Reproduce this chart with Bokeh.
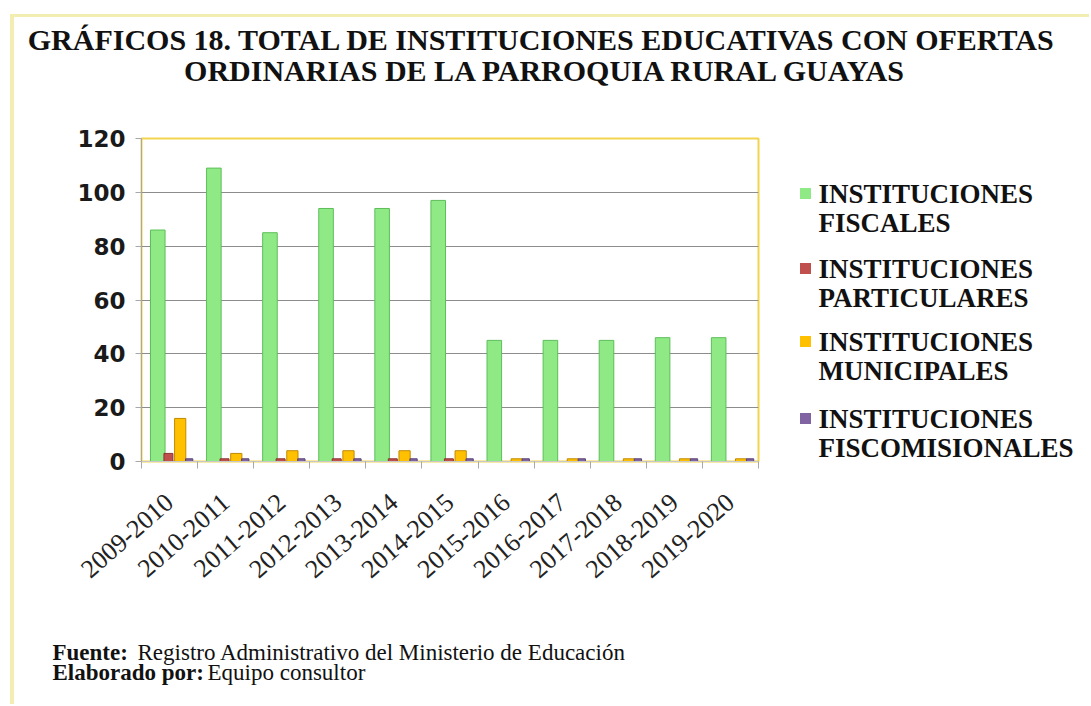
from bokeh.plotting import figure
from bokeh.models import Range1d, FixedTicker
from bokeh.layouts import column, row
from bokeh.embed import file_html
from bokeh.resources import INLINE
from bokeh.core.properties import value

# ---------------- data ----------------
periodos = ["2009-2010", "2010-2011", "2011-2012", "2012-2013", "2013-2014",
            "2014-2015", "2015-2016", "2016-2017", "2017-2018", "2018-2019", "2019-2020"]
fiscales = [86, 109, 85, 94, 94, 97, 45, 45, 45, 46, 46]
particulares = [3, 1, 1, 1, 1, 1, 0, 0, 0, 0, 0]
municipales = [16, 3, 4, 4, 4, 4, 1, 1, 1, 1, 1]
fiscomisionales = [1, 1, 1, 1, 1, 1, 1, 1, 1, 1, 1]
serie_l1 = ["INSTITUCIONES", "INSTITUCIONES", "INSTITUCIONES", "INSTITUCIONES"]
serie_l2 = ["FISCALES", "PARTICULARES", "MUNICIPALES", "FISCOMISIONALES"]
y_ticks = [0, 20, 40, 60, 80, 100, 120]
grid_ticks = [20, 40, 60, 80, 100]
titulo = ["GRÁFICOS 18. TOTAL DE INSTITUCIONES  EDUCATIVAS CON OFERTAS",
          "ORDINARIAS DE LA PARROQUIA RURAL GUAYAS"]
notas_neg = ["Fuente:", "Elaborado por:"]
notas_txt = ["Registro  Administrativo del Ministerio de Educación", "Equipo consultor"]

# ---------------- styles ----------------
colores = ["#8FEA86", "#C0504D", "#FFC000", "#8064A2"]
bordes = ["#5DBE5A", "#8E3432", "#C08A00", "#5A4478"]
offsets = [0.29, 0.48, 0.69, 0.85]
anchos = [0.26, 0.16, 0.20, 0.13]
SERIF = "Liberation Serif"
TXT = "#111111"


def text_fig(w, h, y0=None, y1=None):
    yr = Range1d(h, 0) if y0 is None else Range1d(y1, y0)
    f = figure(width=w, height=h, x_range=Range1d(0, w), y_range=yr,
               output_backend="svg", toolbar_location=None,
               x_axis_type=None, y_axis_type=None, min_border=0)
    f.outline_line_color = None
    f.background_fill_color = "white"
    f.border_fill_color = "white"
    f.xgrid.visible = False
    f.ygrid.visible = False
    return f


def txt(f, xs, ys, texts, size, bold=False, align="left"):
    f.text(x=xs, y=ys, text=texts, text_font=value(SERIF), text_font_size=size,
           text_font_style="bold" if bold else "normal",
           text_align=align, text_baseline="middle", text_color=TXT)


# ---------------- title ----------------
t = text_fig(1075, 101)
txt(t, [531, 532], [22, 53], titulo, "30px", bold=True, align="center")

# ---------------- chart ----------------
n = len(periodos)
p = figure(width=776, height=502,
           x_range=Range1d(0, n), y_range=Range1d(0, 120),
           output_backend="svg", toolbar_location=None,
           min_border_left=127, min_border_right=32,
           min_border_top=20, min_border_bottom=159)
p.background_fill_color = "white"
p.border_fill_color = "white"
p.outline_line_color = "#F2D44E"
p.outline_line_width = 2

series = [fiscales, particulares, municipales, fiscomisionales]
for k, vals in enumerate(series):
    xs = [i + offsets[k] for i in range(n)]
    p.vbar(x=xs, top=vals, bottom=0, width=anchos[k],
           fill_color=colores[k], line_color=bordes[k], line_width=1)

p.xgrid.visible = False
p.ygrid.ticker = FixedTicker(ticks=grid_ticks)
p.ygrid.grid_line_color = "#8C8C8C"
p.ygrid.grid_line_width = 1

p.yaxis.ticker = FixedTicker(ticks=y_ticks)
p.yaxis.axis_line_color = "#A8A8A8"
p.yaxis.major_tick_line_color = "#A8A8A8"
p.yaxis.major_tick_out = 6
p.yaxis.major_tick_in = 0
p.yaxis.minor_tick_line_color = None
p.yaxis.major_label_text_font = "DejaVu Sans"
p.yaxis.major_label_text_font_style = "bold"
p.yaxis.major_label_text_font_size = "23px"
p.yaxis.major_label_text_color = "#1a1a1a"
p.yaxis.major_label_standoff = 10

centros = [i + 0.5 for i in range(n)]
p.xaxis.ticker = FixedTicker(ticks=centros, minor_ticks=list(range(n + 1)))
p.xaxis.major_label_overrides = {c: s for c, s in zip(centros, periodos)}
p.xaxis.major_tick_line_color = None
p.xaxis.minor_tick_line_color = "#A8A8A8"
p.xaxis.minor_tick_out = 7
p.xaxis.minor_tick_in = 0
p.xaxis.axis_line_color = "#C8C8C8"
p.xaxis.major_label_orientation = 0.72
p.xaxis.major_label_text_font = SERIF
p.xaxis.major_label_text_font_size = "26px"
p.xaxis.major_label_text_color = "#222222"
p.xaxis.major_label_standoff = 30

# ---------------- legend ----------------
# frame of this figure is aligned with the chart frame (page y 138..461)
lg = text_fig(299, 502, y0=138, y1=461)
leg_y = [193, 268, 341, 418]
lg.scatter(x=[15] * 4, y=leg_y, marker="square", size=11,
           fill_color=colores, line_color=None)
txt(lg, [28] * 8, leg_y + [v + 29 for v in leg_y], serie_l1 + serie_l2, "27px", bold=True)

# ---------------- notes ----------------
nt = text_fig(1075, 84)
txt(nt, [38, 38], [32, 52], notas_neg, "23px", bold=True)
txt(nt, [123, 193], [32, 52], notas_txt, "23px")

root = column(t, row(p, lg), nt)
root.styles = {"margin-left": "10px", "margin-top": "14px",
               "border-left": "4px solid #F2EDB0", "border-top": "3px solid #F2EDB0"}

open("out.html", "w").write(file_html(root, INLINE))
